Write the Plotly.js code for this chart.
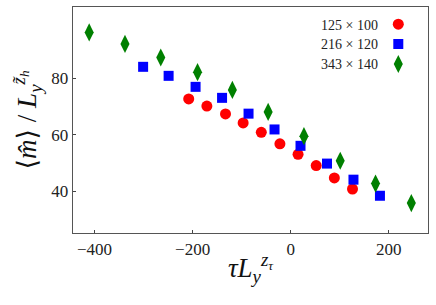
<!DOCTYPE html>
<html>
<head>
<meta charset="utf-8">
<script src="https://cdn.plot.ly/plotly-3.0.1.min.js"></script>
<style>html,body{margin:0;padding:0;background:#fff;}#chart{width:436px;height:305px;}</style>
</head>
<body>
<div id="chart"></div>
<script>
// Series labels
const seriesLabels = ["125 \u00d7 100", "216 \u00d7 120", "343 \u00d7 140"];

// 125 x 100 (red circles)
const x125 = [-208, -171, -133, -97, -60, -22, 15, 52, 89, 126];
const y125 = [72.7, 70.2, 67.4, 64.2, 60.9, 56.8, 53.1, 49.1, 44.7, 40.8];

// 216 x 120 (blue squares)
const x216 = [-301, -249, -194, -140, -86, -33, 20, 74, 128, 182];
const y216 = [84.1, 80.9, 77.0, 73.1, 67.5, 61.9, 56.1, 49.8, 44.1, 38.4];

// 343 x 140 (green diamonds)
const x343 = [-411, -338, -265, -190, -119, -46, 27, 101, 173, 246];
const y343 = [96.3, 92.2, 87.4, 82.2, 75.9, 68.1, 59.5, 50.8, 42.7, 35.8];

const xTicks = [-400, -200, 0, 200];
const yTicks = [40, 60, 80];

const serif = "Liberation Serif, DejaVu Serif, serif";

const traces = [
  {x: x125, y: y125, mode: "markers", type: "scatter", name: " ",
   marker: {symbol: "circle", size: 11, color: "#ff0000"}},
  {x: x216, y: y216, mode: "markers", type: "scatter", name: " ",
   marker: {symbol: "square", size: 10, color: "#0000ff"}},
  {x: x343, y: y343, mode: "markers", type: "scatter", name: " ",
   marker: {symbol: "diamond-tall", size: 13, color: "#008000"}}
];

const annotations = seriesLabels.map((t, i) => ({
  xref: "paper", yref: "paper", x: 0.865, y: 0.92 - i * 0.088,
  xanchor: "right", yanchor: "middle", showarrow: false, text: t,
  font: {family: serif, size: 14, color: "#222"}
}));

const layout = {
  width: 436, height: 305,
  margin: {l: 73, r: 8, t: 7, b: 72, autoexpand: false},
  paper_bgcolor: "#fff", plot_bgcolor: "#fff",
  showlegend: true,
  legend: {x: 0.86, y: 0.99, xanchor: "left", yanchor: "top",
    bgcolor: "rgba(0,0,0,0)", font: {family: serif, size: 13}, itemwidth: 30},
  xaxis: {range: [-444, 280], tickvals: xTicks, ticktext: xTicks.map(v => v < 0 ? "\u2212" + Math.abs(v) : String(v)),
    ticks: "inside", ticklen: 3, tickcolor: "#444", showline: true, linecolor: "#555", linewidth: 1.3, mirror: true,
    showgrid: false, zeroline: false, automargin: false,
    tickfont: {family: serif, size: 17, color: "#222"},
    title: {text: "<i>\u03c4L</i><sub><i>y</i></sub><sup><i>z</i><sub><i>\u03c4</i></sub></sup>", font: {family: serif, size: 27, color: "#111"}, standoff: 0}},
  yaxis: {range: [25.2, 105.3], tickvals: yTicks,
    ticks: "inside", ticklen: 3, tickcolor: "#444", showline: true, linecolor: "#555", linewidth: 1.3, mirror: true,
    showgrid: false, zeroline: false, automargin: false,
    tickfont: {family: serif, size: 17, color: "#222"},
    title: {text: "\u27e8<i>m\u0302</i>\u27e9 / <i>L</i><sub><i>y</i></sub><sup><i>z\u0303</i><sub><i>h</i></sub></sup>", font: {family: serif, size: 27, color: "#111"}, standoff: 6}},
  annotations: annotations
};

Plotly.newPlot("chart", traces, layout, {staticPlot: true, displayModeBar: false});
</script>
</body>
</html>
